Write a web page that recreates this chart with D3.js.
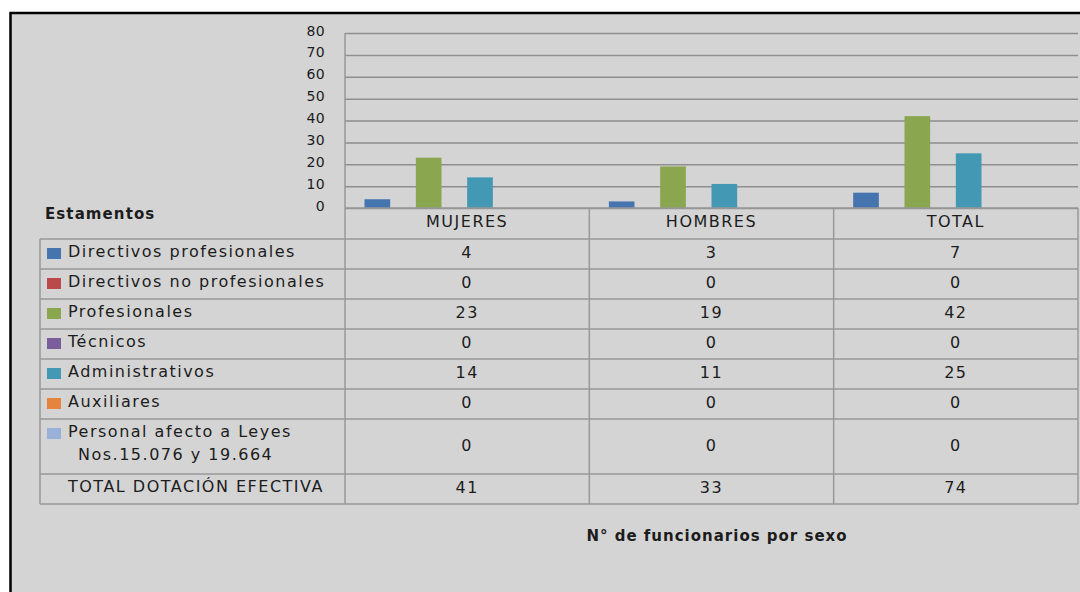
<!DOCTYPE html>
<html>
<head>
<meta charset="utf-8">
<script src="https://cdn.jsdelivr.net/npm/d3@7"></script>
<style>
  body { margin: 0; background: #fff; }
  svg { display: block; }
  text { font-family: "DejaVu Sans", sans-serif; fill: #1c1c1c; }
</style>
</head>
<body>
<div id="chart"></div>
<script>
(function() {

  let width  = 1080,
      height = 592;

  // categories (columns of the table)
  const categories = ["MUJERES", "HOMBRES", "TOTAL"];

  // series, one per table row
  const seriesNames = [
    "Directivos profesionales",
    "Directivos no profesionales",
    "Profesionales",
    "Técnicos",
    "Administrativos",
    "Auxiliares",
    "Personal afecto a Leyes|Nos.15.076 y 19.664",
    "TOTAL DOTACIÓN EFECTIVA"
  ];
  const directivosProf   = [4, 3, 7];
  const directivosNoProf = [0, 0, 0];
  const profesionales    = [23, 19, 42];
  const tecnicos         = [0, 0, 0];
  const administrativos  = [14, 11, 25];
  const auxiliares       = [0, 0, 0];
  const personalLeyes    = [0, 0, 0];
  const totalDotacion    = [41, 33, 74];
  const seriesValues = [directivosProf, directivosNoProf, profesionales, tecnicos,
                        administrativos, auxiliares, personalLeyes, totalDotacion];

  // excel 2007 like palette, last series has no fill
  const seriesColors = ["#4674ae", "#b9494a", "#8aa64f", "#7a5d9b", "#4399b4", "#e4843f", "#99b1d9", "none"];

  const yTicks = [0, 10, 20, 30, 40, 50, 60, 70, 80];

  // layout
  let plotLeft = 345, plotRight = 1078,
      plotTop = 33,   plotBottom = 208,
      tableLeft = 40,
      headerH = 31, rowH = 30, extraLineH = 25;

  let svg = d3.select("#chart")
    .append("svg")
    .attr("width", width)
    .attr("height", height);

  // frame
  svg.append("rect")
    .attr("x", 10.5).attr("y", 13)
    .attr("width", width + 20).attr("height", height + 20)
    .attr("fill", "#d4d4d4")
    .attr("stroke", "#000")
    .attr("stroke-width", 2.5);

  // scales
  let y = d3.scaleLinear()
    .domain([0, 80])
    .range([plotBottom, plotTop]);

  let x0 = d3.scaleBand()
    .domain(categories)
    .range([plotLeft, plotRight]);

  let x1 = d3.scaleBand()
    .domain(seriesNames)
    .range([0, x0.bandwidth()])
    .paddingOuter(0.76);

  // grid + tick labels
  let yAxis = svg.append("g")
    .attr("transform", `translate(${plotLeft},0)`)
    .call(d3.axisLeft(y)
      .tickValues(yTicks)
      .tickSizeInner(-(plotRight - plotLeft))
      .tickSizeOuter(0)
      .tickPadding(20));
  yAxis.select(".domain").remove();
  yAxis.selectAll(".tick line")
    .attr("stroke", "#8e8e8e")
    .attr("stroke-width", 1.5);
  yAxis.selectAll(".tick text")
    .attr("dy", "0.15em")
    .style("font-size", "14px")
    .style("letter-spacing", "0.4px")
    .style("font-family", "DejaVu Sans")
    .attr("fill", "#1c1c1c");

  // bars
  let bars = svg.append("g");
  seriesNames.forEach((name, i) => {
    bars.selectAll(".bar-" + i)
      .data(seriesValues[i])
      .enter().append("rect")
      .attr("class", "bar-" + i)
      .attr("x", (d, j) => x0(categories[j]) + x1(name))
      .attr("y", (d) => y(d))
      .attr("width", x1.bandwidth())
      .attr("height", (d) => plotBottom - y(d))
      .attr("fill", seriesColors[i]);
  });

  // table rows
  let rows = [];
  let top = plotBottom + headerH;
  seriesNames.forEach((name, i) => {
    let lines = name.split("|");
    let h = rowH + (lines.length - 1) * extraLineH;
    rows.push({ name: name, lines: lines, top: top, h: h, i: i });
    top += h;
  });
  let tableBottom = top;

  let lineColor = "#999", lineW = 1.5;
  let table = svg.append("g");

  // horizontal lines
  table.append("line")
    .attr("x1", plotLeft).attr("x2", plotRight)
    .attr("y1", plotBottom).attr("y2", plotBottom);
  rows.forEach((r) => {
    table.append("line")
      .attr("x1", tableLeft).attr("x2", plotRight)
      .attr("y1", r.top).attr("y2", r.top);
  });
  table.append("line")
    .attr("x1", tableLeft).attr("x2", plotRight)
    .attr("y1", tableBottom).attr("y2", tableBottom);

  // vertical lines
  table.append("line")
    .attr("x1", tableLeft).attr("x2", tableLeft)
    .attr("y1", rows[0].top).attr("y2", tableBottom);
  table.append("line")
    .attr("x1", plotLeft).attr("x2", plotLeft)
    .attr("y1", plotTop).attr("y2", tableBottom);
  categories.forEach((c) => {
    let xr = x0(c) + x0.bandwidth();
    table.append("line")
      .attr("x1", xr).attr("x2", xr)
      .attr("y1", plotBottom).attr("y2", tableBottom);
  });
  table.selectAll("line")
    .attr("stroke", lineColor)
    .attr("stroke-width", lineW);

  let cellFont = (sel) => sel
    .style("font-size", "16px")
    .style("letter-spacing", "1.5px");

  // header
  svg.selectAll(".header")
    .data(categories)
    .enter().append("text")
    .attr("class", "header")
    .attr("x", (d) => x0(d) + x0.bandwidth() / 2)
    .attr("y", plotBottom + 19)
    .attr("text-anchor", "middle")
    .text((d) => d)
    .call(cellFont);

  svg.append("text")
    .attr("x", 45)
    .attr("y", 219)
    .style("font-size", "15px")
    .style("font-weight", "bold")
    .style("letter-spacing", "1.1px")
    .text("Estamentos");

  // row labels + legend keys
  rows.forEach((r) => {
    if (seriesColors[r.i] !== "none") {
      svg.append("rect")
        .attr("x", 47).attr("y", r.top + 9)
        .attr("width", 14).attr("height", 11)
        .attr("fill", seriesColors[r.i]);
    }
    r.lines.forEach((ln, k) => {
      svg.append("text")
        .attr("x", k === 0 ? 68 : 78)
        .attr("y", r.top + 18 + k * 23)
        .text(ln)
        .call(cellFont);
    });
    // values
    seriesValues[r.i].forEach((v, j) => {
      svg.append("text")
        .attr("x", x0(categories[j]) + x0.bandwidth() / 2)
        .attr("y", r.top + r.h / 2 + 4)
        .attr("text-anchor", "middle")
        .text(v)
        .call(cellFont);
    });
  });

  // axis title below table
  svg.append("text")
    .attr("x", 717)
    .attr("y", 541)
    .attr("text-anchor", "middle")
    .style("font-size", "15px")
    .style("font-weight", "bold")
    .style("letter-spacing", "1px")
    .text("N° de funcionarios por sexo");

})();
</script>
</body>
</html>
